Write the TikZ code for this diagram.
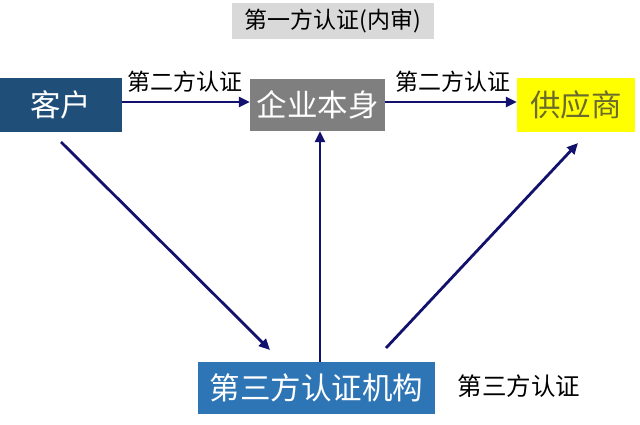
\documentclass[tikz,border=0pt]{standalone}
\usepackage{fontspec}
\setmainfont{Noto Sans CJK SC}
\usetikzlibrary{arrows.meta}
\definecolor{custblue}{HTML}{1F4E79}
\definecolor{entgray}{HTML}{7F7F7F}
\definecolor{supyellow}{HTML}{FFFF00}
\definecolor{suptext}{HTML}{6B6B2E}
\definecolor{thirdblue}{HTML}{2E75B6}
\definecolor{lblgray}{HTML}{D9D9D9}
\definecolor{arrnavy}{HTML}{12126E}
\begin{document}
\begin{tikzpicture}[x=1pt,y=-1pt,
  box/.style={inner sep=0pt, anchor=center, font=\fontsize{30.5}{33}\selectfont},
  lbl/.style={inner sep=0pt, font=\fontsize{23}{26}\selectfont, text=black},
  conn/.style={draw=arrnavy, line width=2.8pt, -{Triangle[length=11pt,width=10pt]}}]
\useasboundingbox (0,0) rectangle (640,425);
\fill[white] (0,0) rectangle (640,425);
% top label
\node[lbl, fill=lblgray, minimum width=202pt, minimum height=36pt] (first) at (333,21) {第一方认证(内审)};
% boxes
\node[box, fill=custblue, text=white, minimum width=122pt, minimum height=54pt] (cust) at (61,105) {客户};
\node[box, fill=entgray, text=white, minimum width=135pt, minimum height=52pt] (ent) at (317.5,105) {企业本身};
\node[box, fill=supyellow, text=suptext, minimum width=118pt, minimum height=54pt] (sup) at (576,105) {供应商};
\node[box, fill=thirdblue, text=white, minimum width=237pt, minimum height=52pt] (third) at (316.5,388) {第三方认证机构};
% labels
\node[lbl] (l1) at (185,82) {第二方认证};
\node[lbl] (l2) at (453,82) {第二方认证};
\node[lbl, font=\fontsize{24.5}{26}\selectfont] (l3) at (519,386) {第三方认证};
% connectors
\draw[conn] (cust.east |- 0,102) -- (ent.west |- 0,102);
\draw[conn] (ent.east |- 0,102) -- (sup.west |- 0,102);
\coordinate (a1s) at (61,142);
\coordinate (a1e) at (270,350);
\draw[conn] (a1s) -- (a1e);
\draw[conn] (third.north -| 320,0) -- (ent.south -| 320,0);
\coordinate (a3s) at (386,348);
\coordinate (a3e) at (578,143);
\draw[conn] (a3s) -- (a3e);
\end{tikzpicture}
\end{document}
